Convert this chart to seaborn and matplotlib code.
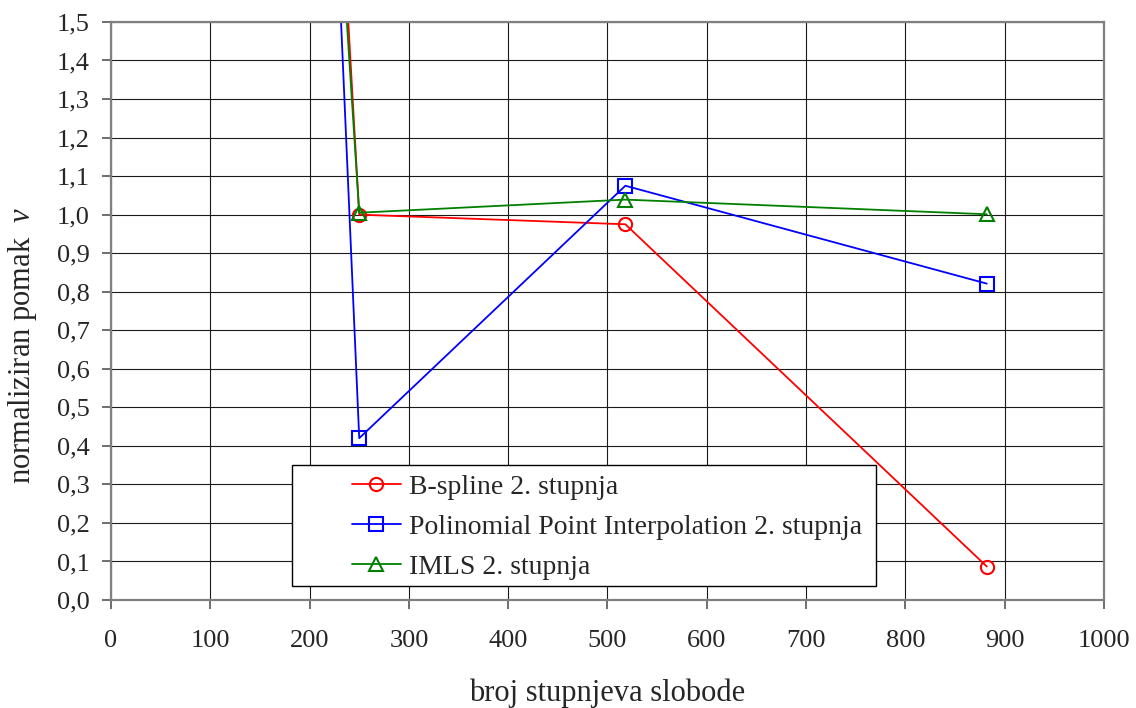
import numpy as np
import pandas as pd
import matplotlib
matplotlib.use("Agg")
import matplotlib.pyplot as plt
import seaborn as sns
from matplotlib.patches import Rectangle
from matplotlib.ticker import FuncFormatter, MultipleLocator

# degrees of freedom (first point lies far above the visible range)
dof = [120, 250, 518, 882]

bspline = [6.90, 1.00, 0.975, 0.087]
ppi = [8.09, 0.42, 1.075, 0.821]
imls = [6.16, 1.005, 1.039, 1.001]

series_names = ["B-spline 2. stupnja",
                "Polinomial Point Interpolation 2. stupnja",
                "IMLS 2. stupnja"]
series_values = [bspline, ppi, imls]
colors = ["#ff0000", "#0000ff", "#008000"]
markers = ["o", "s", "^"]

sns.set_style("white")
plt.rcParams["font.family"] = ["Liberation Serif", "DejaVu Serif"]
plt.rcParams["mathtext.fontset"] = "custom"
plt.rcParams["mathtext.rm"] = "Liberation Serif"
plt.rcParams["mathtext.it"] = "Liberation Serif:italic"

fig = plt.figure(figsize=(11.36, 7.08), dpi=100)
ax = fig.add_axes([0.0977, 0.1525, 0.8741, 0.8165])

for name, vals, c, m in zip(series_names, series_values, colors, markers):
    df = pd.DataFrame({"dof": dof, "v": vals})
    sns.lineplot(data=df, x="dof", y="v", ax=ax, color=c, marker=m,
                 markersize=9.5, markerfacecolor="none", markeredgecolor=c,
                 markeredgewidth=1.5, linewidth=1.3, label=name,
                 errorbar=None, sort=False)

ax.set_xlim(0, 1000)
ax.set_ylim(0, 1.5)
ax.xaxis.set_major_locator(MultipleLocator(100))
ax.yaxis.set_major_locator(MultipleLocator(0.1))
ax.yaxis.set_major_formatter(FuncFormatter(lambda v, p: f"{v:.1f}".replace(".", ",")))
ax.grid(True, color="#1a1a1a", linewidth=0.8)
ax.set_axisbelow(True)
for s in ax.spines.values():
    s.set_color("#808080")
    s.set_linewidth(1.6)
ax.tick_params(axis="both", direction="out", length=6.5, width=1.2, color="#555555",
               labelsize=19, left=True, bottom=True)
ax.tick_params(axis="x", pad=15)
ax.tick_params(axis="y", pad=9)

ax.set_xlabel("broj stupnjeva slobode", fontsize=22)
ax.set_ylabel("normaliziran pomak  $v$", fontsize=22)
ax.xaxis.set_label_coords(0.5, -0.135)
ax.yaxis.set_label_coords(-0.072, 0.44)

# legend box drawn as a plain rectangle, entries placed inside it
box = Rectangle((0.1823, 0.0242), 0.588, 0.2093, transform=ax.transAxes,
                facecolor="white", edgecolor="black", linewidth=1.0, zorder=4)
ax.add_patch(box)
leg = ax.legend(loc="center left", bbox_to_anchor=(0.2427, 0.1263),
                frameon=False, fontsize=20, borderpad=0, borderaxespad=0,
                handlelength=1.75, handletextpad=0.3, labelspacing=0.52)
leg.set_zorder(5)

fig.savefig("out.png", dpi=100, facecolor="white")
